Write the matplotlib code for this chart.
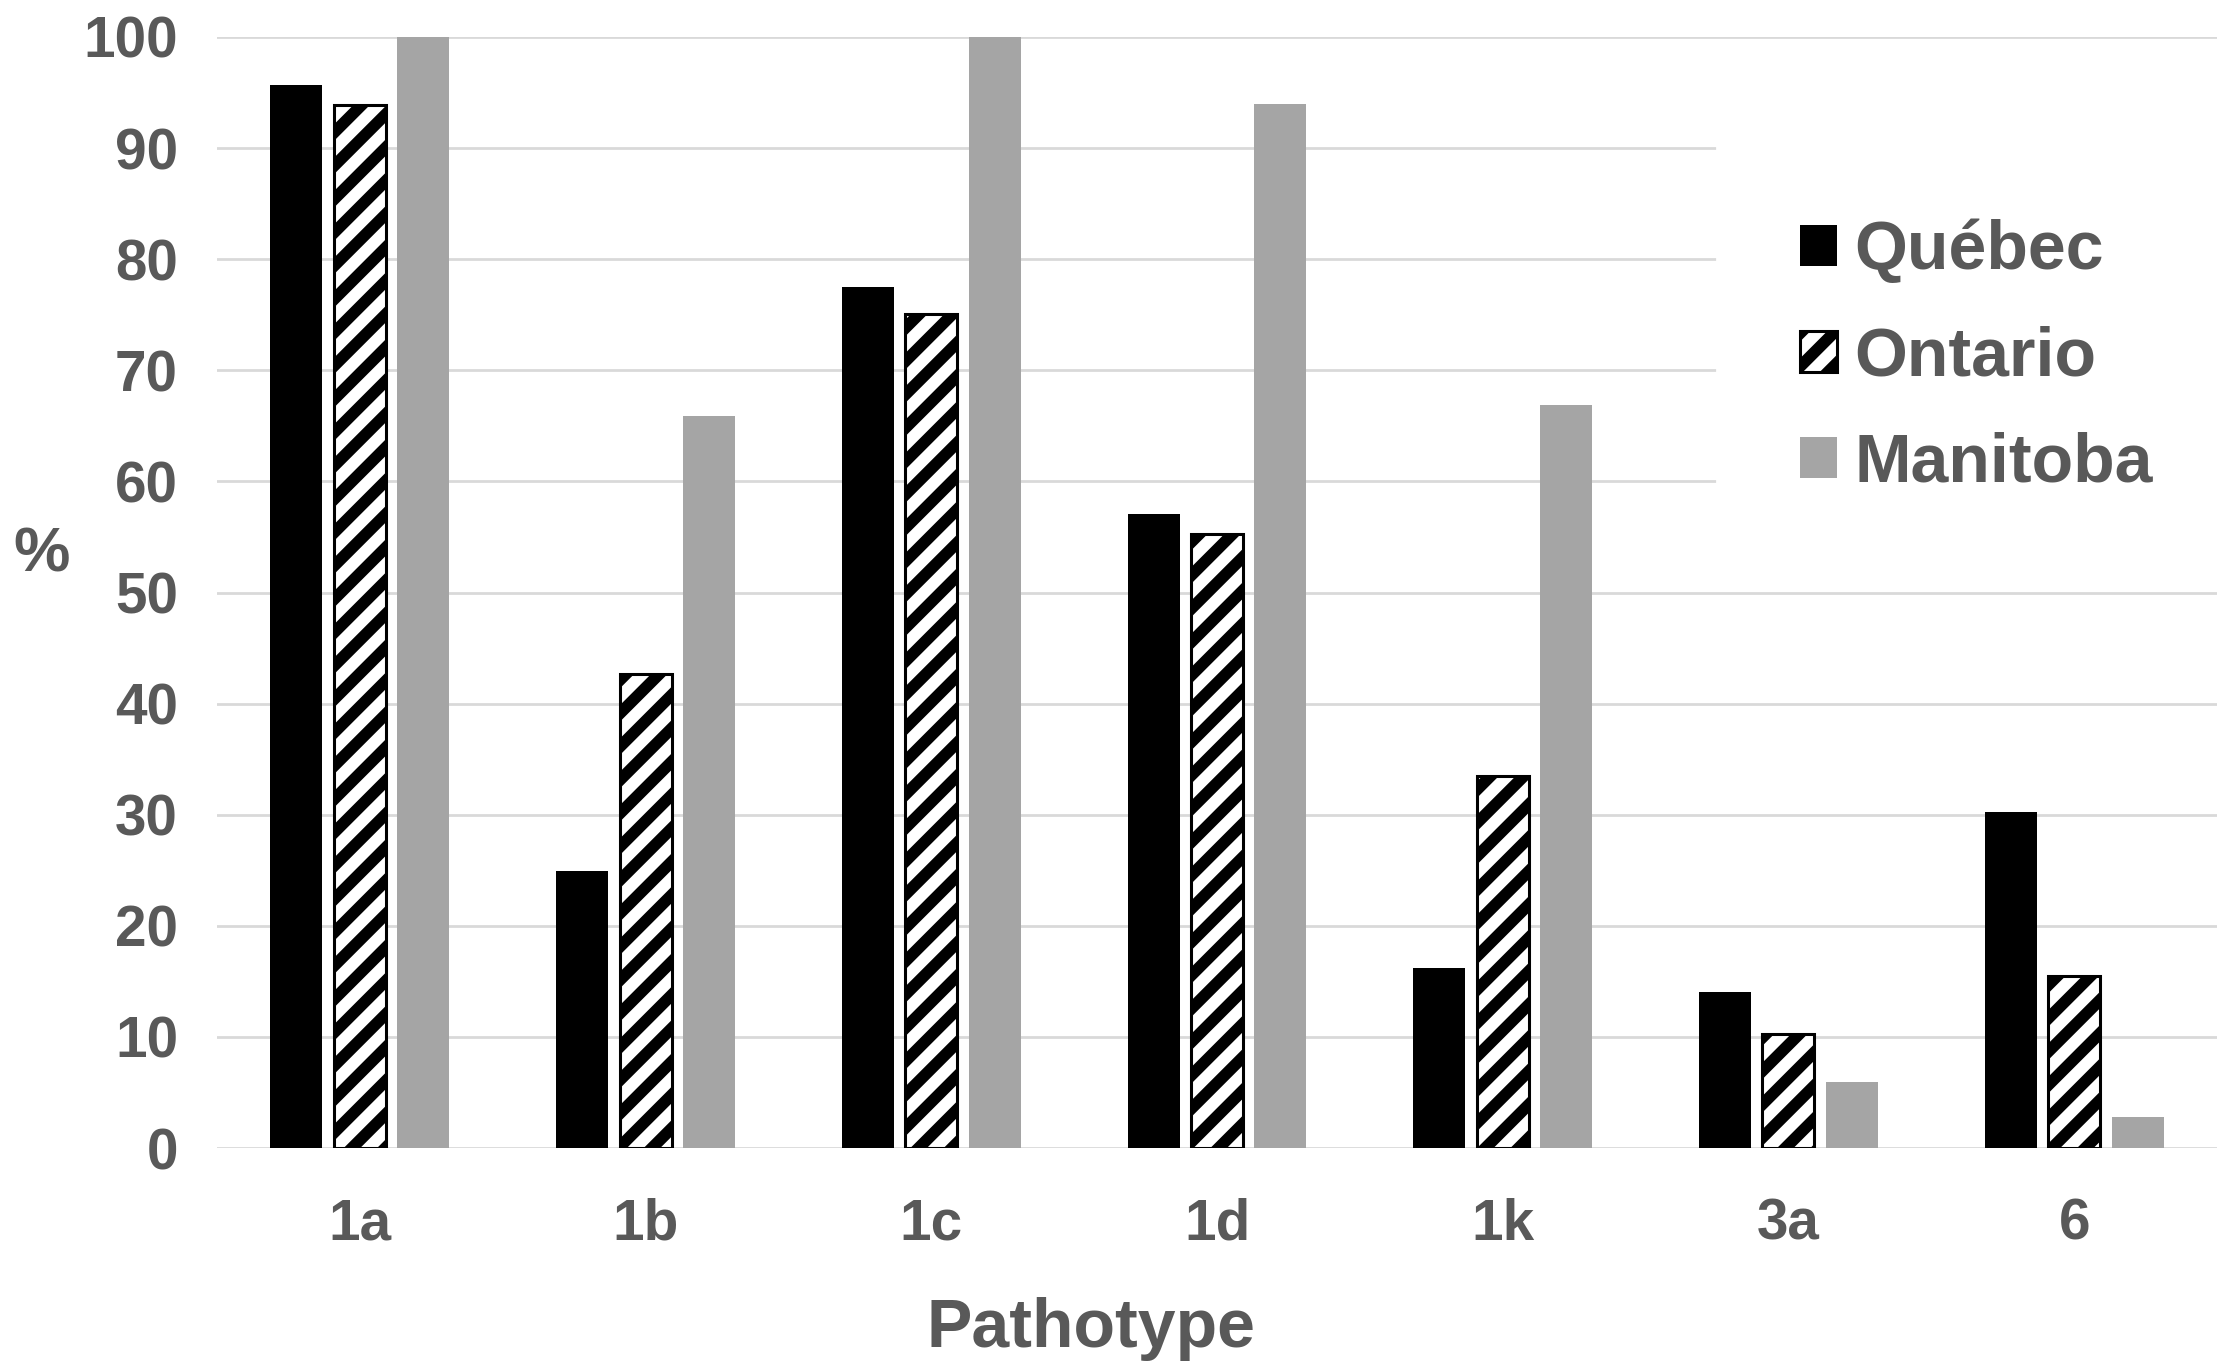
import numpy as np
import matplotlib
matplotlib.use('Agg')
import matplotlib.pyplot as plt

# Data
pathotypes = ['1a', '1b', '1c', '1d', '1k', '3a', '6']
quebec = [95.7, 24.9, 77.5, 57.1, 16.2, 14.0, 30.2]
ontario = [93.9, 42.7, 75.1, 55.3, 33.5, 10.3, 15.5]
manitoba = [100, 65.9, 100, 94.0, 66.9, 5.9, 2.8]
y_ticks = [0, 10, 20, 30, 40, 50, 60, 70, 80, 90, 100]

text_col = '#595959'
plt.rcParams['font.family'] = ['Liberation Sans', 'DejaVu Sans']
plt.rcParams['font.weight'] = 'bold'
plt.rcParams['hatch.linewidth'] = 4.2

DPI = 200
fig = plt.figure(figsize=(2228 / DPI, 1370 / DPI), dpi=DPI)
ax = fig.add_axes([217 / 2228, 1 - 1148 / 1370, 2000 / 2228, 1111 / 1370])

x = np.arange(len(pathotypes))
w = 0.182
step = 0.222

ax.bar(x - step, quebec, w, color='black', label='Québec')
ax.bar(x, ontario, w, facecolor='white', edgecolor='black', hatch='//',
       linewidth=1.1, label='Ontario')
ax.bar(x + step, manitoba, w, color='#a5a5a5', label='Manitoba')

ax.set_xlim(-0.5, 6.5)
ax.set_ylim(0, 100)
ax.set_yticks(y_ticks)
ax.set_xticks(x)
ax.set_xticklabels(pathotypes)

ax.set_axisbelow(True)
ax.yaxis.grid(True, color='#d9d9d9', linewidth=1.0)
for s in ax.spines.values():
    s.set_visible(False)

ax.tick_params(axis='y', length=0, pad=14, labelsize=20.4, labelcolor=text_col)
ax.tick_params(axis='x', length=0, pad=18, labelsize=20.4, labelcolor=text_col)

ax.set_xlabel('Pathotype', fontsize=24.5, fontweight='bold', color=text_col, va='top')
ax.xaxis.set_label_coords(0.437, -0.134)
ax.set_ylabel('%', fontsize=22.8, fontweight='bold', color=text_col, rotation=0,
              va='center', ha='center')
ax.yaxis.set_label_coords(-0.0875, 0.534)

leg = ax.legend(loc='upper left', bbox_to_anchor=(0.75, 0.911), borderaxespad=0,
                fontsize=24.5, frameon=True, facecolor='white', edgecolor='white',
                framealpha=1, fancybox=False, borderpad=1.22, handlelength=0.545,
                handleheight=0.545, handletextpad=0.25, labelspacing=0.62)
for t in leg.get_texts():
    t.set_color(text_col)

plt.savefig('out.png', dpi=DPI)
plt.close()
